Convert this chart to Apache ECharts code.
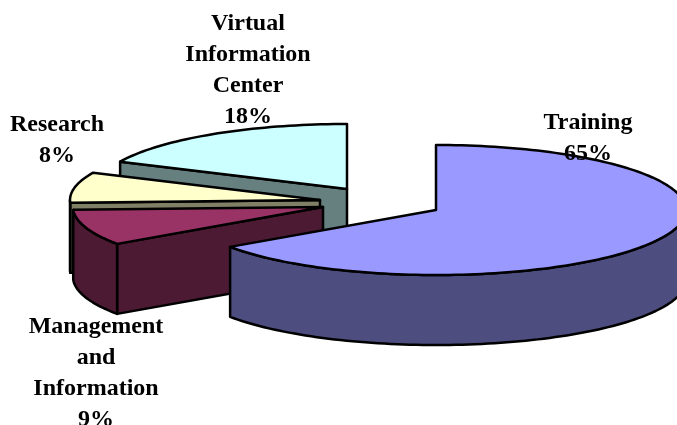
<!DOCTYPE html>
<html>
<head>
<meta charset="utf-8">
<style>html,body{margin:0;padding:0;background:#fff}#c{width:677px;height:425px}</style>
<script src="https://cdn.jsdelivr.net/npm/echarts@6/dist/echarts.min.js"></script>
</head>
<body>
<div id="c"></div>
<script>
// Data, clockwise from 12 o'clock
var categories = ['Training', 'Management and Information', 'Research', 'Virtual Information Center'];
var shareValues = [65.4, 8.9, 7.6, 18.1];

// Appearance and layout, per category
var topColors  = ['#9999FF', '#993366', '#FFFFCC', '#CCFFFF'];
var wallColors = ['#4D4D80', '#4D1A33', '#808066', '#668080'];
var sliceCenters = [[436, 210], [323, 207], [320, 200], [347, 189]];
var labelCenters = [[588, 138.5], [96, 373], [57, 140.5], [248, 70]];
var drawOrder = [3, 2, 1, 0];
var RX = 250, RY = 65, DEPTH = 70, LINE_H = 31;

var total = shareValues.reduce(function (a, b) { return a + b; }, 0);
var starts = [], acc = 0;
shareValues.forEach(function (v) { starts.push(acc / total * 360); acc += v; });

function pt(c, deg, drop) {
  var r = deg * Math.PI / 180;
  return [c[0] + RX * Math.sin(r), c[1] - RY * Math.cos(r) + (drop || 0)];
}
function arc(c, a, b, drop) {
  var out = [], n = Math.max(2, Math.ceil(Math.abs(b - a) / 1.5));
  for (var i = 0; i <= n; i++) out.push(pt(c, a + (b - a) * i / n, drop));
  return out;
}
function poly(points, fill) {
  return {
    type: 'polygon',
    shape: { points: points },
    style: { fill: fill, stroke: '#000', lineWidth: 2.5, lineJoin: 'round' }
  };
}

function renderItem(params, api) {
  var i = api.value(0), value = api.value(1);
  var a = starts[i], b = a + value / total * 360;
  var c = sliceCenters[i], kids = [];
  var down = [c[0], c[1] + DEPTH];
  var rad = Math.PI / 180;

  // flat cut walls that face the viewer
  if (Math.sin(a * rad) < -1e-6) {
    var p = pt(c, a), q = pt(c, a, DEPTH);
    kids.push(poly([p, c, down, q], wallColors[i]));
  }
  if (Math.sin(b * rad) > 1e-6) {
    var p2 = pt(c, b), q2 = pt(c, b, DEPTH);
    kids.push(poly([p2, c, down, q2], wallColors[i]));
  }
  // curved rim, front half of the ellipse only
  var lo = Math.max(a, 90), hi = Math.min(b, 270);
  if (hi > lo) {
    kids.push(poly(arc(c, lo, hi, 0).concat(arc(c, hi, lo, DEPTH)), wallColors[i]));
  }
  // top face
  kids.push(poly([c].concat(arc(c, a, b, 0)), topColors[i]));
  // label
  var l = labelCenters[i];
  kids.push({
    type: 'text',
    z2: 100,
    style: {
      x: l[0], y: l[1],
      text: categories[i].split(' ').concat(Math.round(value) + '%').join('\n'),
      fill: '#000',
      font: 'bold 24px "Liberation Serif", "Times New Roman", serif',
      lineHeight: LINE_H,
      align: 'center',
      verticalAlign: 'middle'
    }
  });
  return { type: 'group', children: kids };
}

var chart = echarts.init(document.getElementById('c'), null, { renderer: 'canvas', width: 677, height: 425 });
chart.setOption({
  animation: false,
  backgroundColor: '#fff',
  series: [{
    type: 'custom',
    coordinateSystem: 'none',
    renderItem: renderItem,
    encode: { value: 1 },
    data: drawOrder.map(function (i) { return [i, shareValues[i]]; })
  }]
});
</script>
</body>
</html>
